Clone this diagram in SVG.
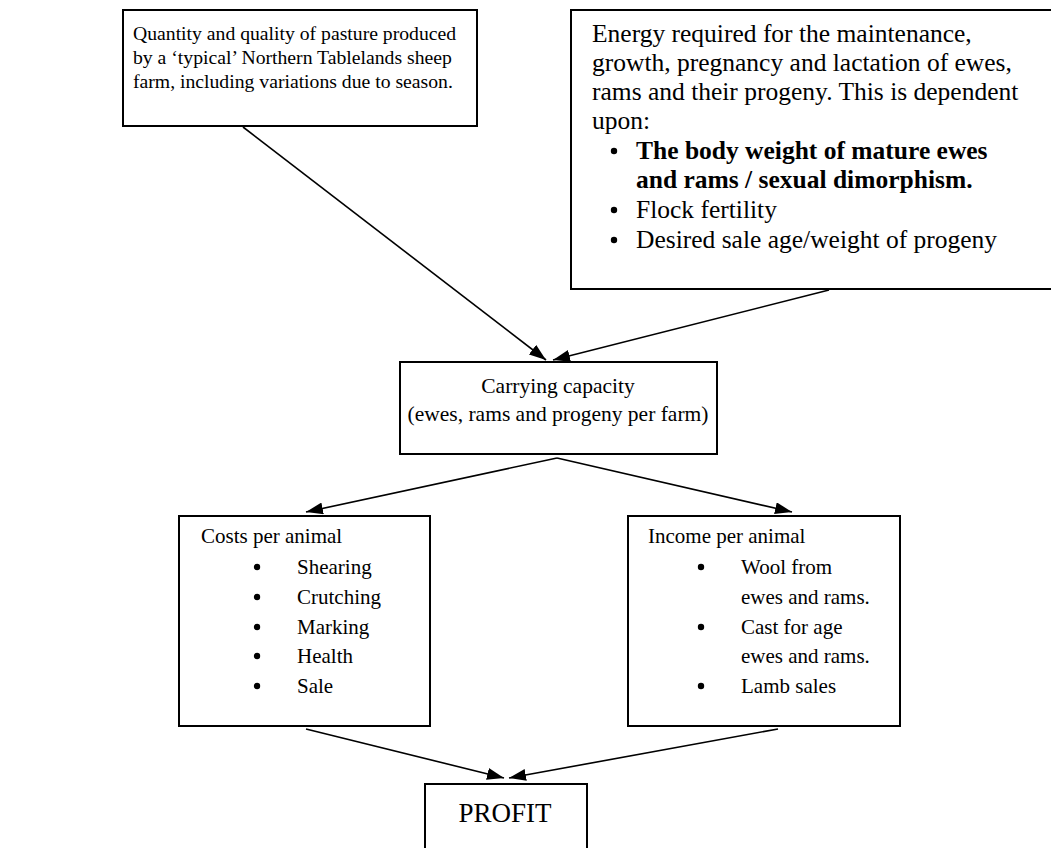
<svg xmlns="http://www.w3.org/2000/svg" width="1051" height="848" viewBox="0 0 1051 848">
<defs>
<style>
.box{fill:#fff;stroke:#000;stroke-width:2}
.t{font-family:"Liberation Serif","Times New Roman",serif;font-size:21px;fill:#000}
.s1{font-size:19.7px}
.s2{font-size:25.5px}
.b{font-weight:bold}
.c{text-anchor:middle}
.ln{stroke:#000;stroke-width:1.6;fill:none;marker-end:url(#ah)}
.dot{fill:#000}
</style>
<marker id="ah" viewBox="0 0 17 12" refX="17" refY="6" markerWidth="17" markerHeight="12" markerUnits="userSpaceOnUse" orient="auto">
<path d="M0,0 L17,6 L0,12 Z" fill="#000"/>
</marker>
</defs>
<rect width="1051" height="848" fill="#fff"/>
<g id="connectors">
<line class="ln" x1="243" y1="127" x2="546" y2="360"/>
<line class="ln" x1="829" y1="290" x2="553" y2="360"/>
<line class="ln" x1="557" y1="458" x2="306" y2="512"/>
<line class="ln" x1="557" y1="458" x2="792" y2="512"/>
<line class="ln" x1="306" y1="729" x2="504" y2="778"/>
<line class="ln" x1="778" y1="729" x2="509" y2="778"/>
</g>
<g id="pasture">
<rect class="box" x="123" y="10" width="354" height="116"/>
<text class="t s1" x="133" y="40">Quantity and quality of pasture produced</text>
<text class="t s1" x="133" y="64">by a ‘typical’ Northern Tablelands sheep</text>
<text class="t s1" x="133" y="88">farm, including variations due to season.</text>
</g>
<g id="energy">
<rect class="box" x="571" y="10" width="490" height="279"/>
<text class="t s2" x="592" y="42">Energy required for the maintenance,</text>
<text class="t s2" x="592" y="71">growth, pregnancy and lactation of ewes,</text>
<text class="t s2" x="592" y="100">rams and their progeny. This is dependent</text>
<text class="t s2" x="592" y="129">upon:</text>
<circle class="dot" cx="614" cy="151" r="3.2"/>
<text class="t s2 b" x="636" y="159">The body weight of mature ewes</text>
<text class="t s2 b" x="636" y="188">and rams / sexual dimorphism.</text>
<circle class="dot" cx="614" cy="210" r="3.2"/>
<text class="t s2" x="636" y="218">Flock fertility</text>
<circle class="dot" cx="614" cy="240" r="3.2"/>
<text class="t s2" x="636" y="248">Desired sale age/weight of progeny</text>
</g>
<g id="capacity">
<rect class="box" x="400" y="362" width="317" height="92"/>
<text class="t c" x="558" y="393" style="font-size:21.5px">Carrying capacity</text>
<text class="t c" x="558" y="421" style="font-size:21.5px">(ewes, rams and progeny per farm)</text>
</g>
<g id="costs">
<rect class="box" x="179" y="516" width="251" height="210"/>
<text class="t" x="201" y="543">Costs per animal</text>
<circle class="dot" cx="257" cy="567" r="3.2"/><text class="t" x="297" y="574">Shearing</text>
<circle class="dot" cx="257" cy="597" r="3.2"/><text class="t" x="297" y="604">Crutching</text>
<circle class="dot" cx="257" cy="627" r="3.2"/><text class="t" x="297" y="634">Marking</text>
<circle class="dot" cx="257" cy="656" r="3.2"/><text class="t" x="297" y="663">Health</text>
<circle class="dot" cx="257" cy="686" r="3.2"/><text class="t" x="297" y="693">Sale</text>
</g>
<g id="income">
<rect class="box" x="628" y="516" width="272" height="210"/>
<text class="t" x="648" y="543">Income per animal</text>
<circle class="dot" cx="701" cy="567" r="3.2"/><text class="t" x="741" y="574">Wool from</text>
<text class="t" x="741" y="604">ewes and rams.</text>
<circle class="dot" cx="701" cy="627" r="3.2"/><text class="t" x="741" y="634">Cast for age</text>
<text class="t" x="741" y="663">ewes and rams.</text>
<circle class="dot" cx="701" cy="686" r="3.2"/><text class="t" x="741" y="693">Lamb sales</text>
</g>
<g id="profit">
<rect class="box" x="425" y="784" width="162" height="80"/>
<text class="t c" x="505" y="822" style="font-size:27px">PROFIT</text>
</g>
</svg>
